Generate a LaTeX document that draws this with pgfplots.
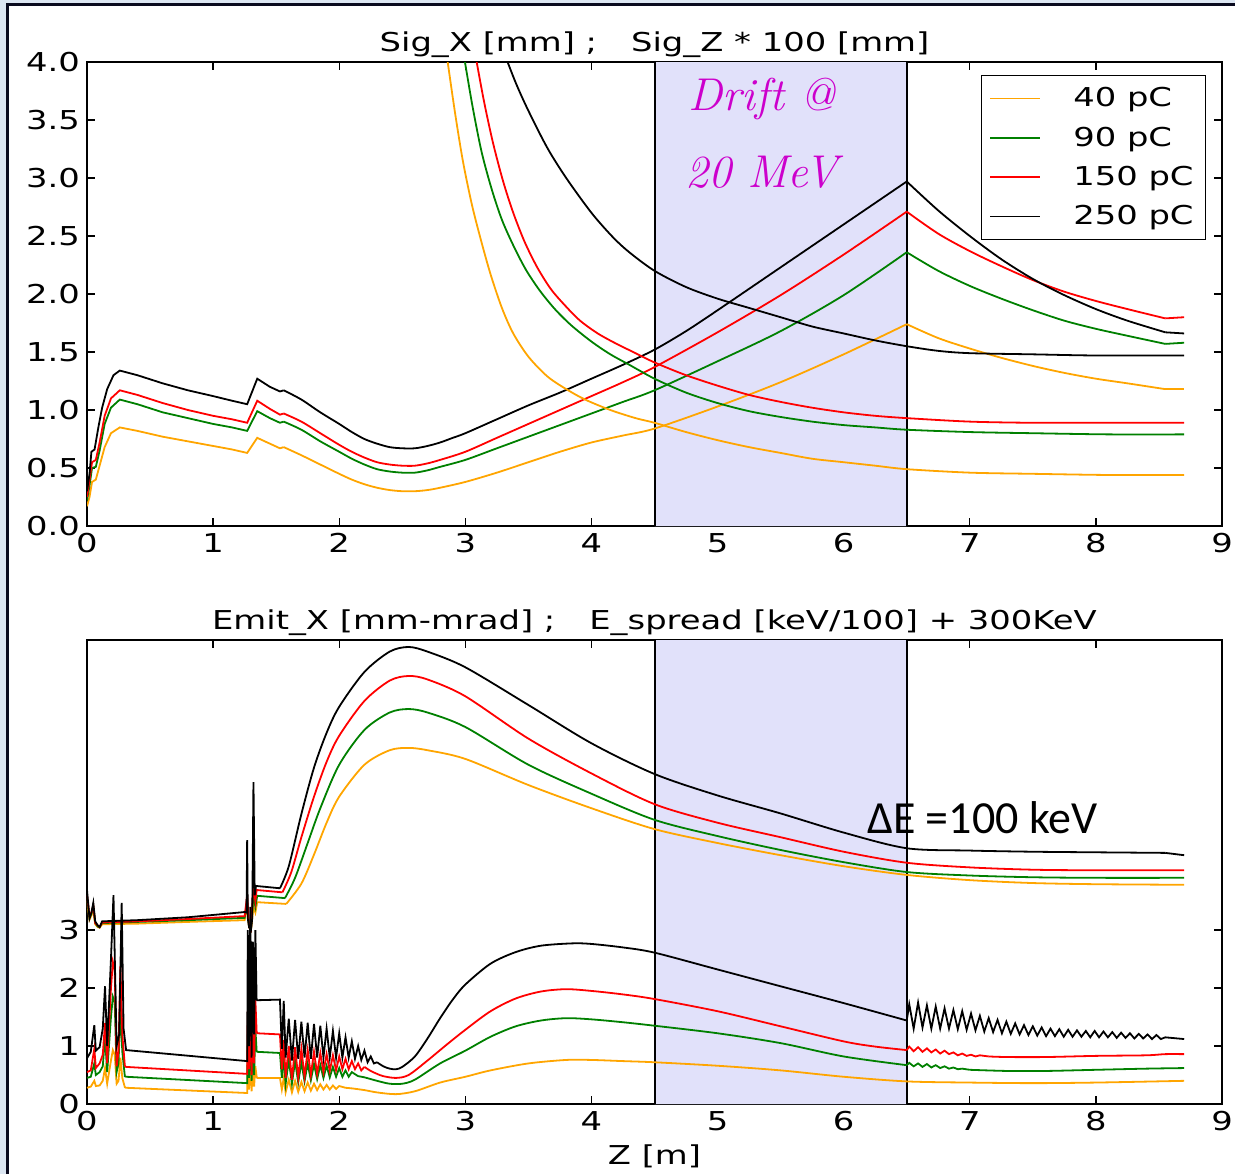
\documentclass[border=0pt]{standalone}
\usepackage{pgfplots}
\pgfplotsset{compat=1.18}
\usepackage{fontspec}
\setmainfont{DejaVu Sans}[FakeStretch=1.3]
\newfontfamily\driftfont{Latin Modern Roman}
\newfontfamily\calfont{Carlito}
\definecolor{c40}{HTML}{FFA500}
\definecolor{c90}{HTML}{008000}
\definecolor{c150}{HTML}{FF0000}
\definecolor{c250}{HTML}{000000}
\definecolor{driftc}{HTML}{E1E1FA}
\definecolor{frameblue}{HTML}{DCE6F2}
\definecolor{framedark}{HTML}{0A0A1E}
\definecolor{driftmag}{HTML}{CC00CC}
\newcommand{\lbl}{\fontsize{13}{15.5}\selectfont}
\pgfplotsset{
  mpl/.style={
    scale only axis, width=567.5pt, height=232pt,
    xmin=0, xmax=9, xtick={0,1,...,9},
    tick align=inside, major tick length=4pt,
    axis line style={line width=0.9pt},
    every tick/.style={black, line width=0.7pt},
    tick label style={font=\lbl},
    title style={font=\lbl, yshift=-7.5pt},
    label style={font=\lbl},
    /pgf/number format/assume math mode=true,
    every axis plot/.append style={line width=0.9pt},
  },
  sm/.style={smooth, forget plot},
  sh/.style={forget plot},
}
\begin{document}
\begin{tikzpicture}
% ---------------- top panel ----------------
\begin{axis}[mpl, at={(43.5pt,-263pt)}, anchor=south west,
  ymin=0, ymax=4, ytick={0,0.5,...,4},
  yticklabel style={/pgf/number format/.cd, fixed, fixed zerofill, precision=1},
  title={Sig\_X [mm] ;\hspace{17pt}Sig\_Z * 100 [mm]},
  legend style={at={(1,1)}, anchor=north east, xshift=-8pt, yshift=-6.5pt,
    draw=black, fill=white, font=\lbl, cells={anchor=west},
    column sep=14pt, row sep=4.5pt, inner xsep=4pt, inner ysep=4pt},
  legend image code/.code={\draw[#1] (0pt,0pt) -- (25pt,0pt);},
]
\addplot[draw=none, fill=driftc, forget plot] coordinates {(4.5,0)(4.5,4)(6.5,4)(6.5,0)} \closedcycle;
\addplot[black, line width=1pt, forget plot] coordinates {(4.5,0)(4.5,4)};
\addplot[black, line width=1pt, forget plot] coordinates {(6.5,0)(6.5,4)};
% Sig_X, early part
\addplot[c40] coordinates {(0,0.17)(0.02,0.25)(0.04,0.38)(0.07,0.40)(0.10,0.52)(0.14,0.68)(0.19,0.80)(0.26,0.85)(0.40,0.82)(0.60,0.77)(0.80,0.73)(1.00,0.69)(1.15,0.66)(1.27,0.63)(1.35,0.76)(1.45,0.71)(1.53,0.67)(1.56,0.68)};
\addlegendentry{40 pC}
\addplot[c90] coordinates {(0,0.22)(0.02,0.35)(0.04,0.50)(0.07,0.51)(0.10,0.65)(0.14,0.88)(0.19,1.02)(0.26,1.09)(0.40,1.05)(0.60,0.98)(0.80,0.93)(1.00,0.88)(1.15,0.85)(1.27,0.82)(1.35,0.99)(1.45,0.93)(1.53,0.89)(1.56,0.90)};
\addlegendentry{90 pC}
\addplot[c150] coordinates {(0,0.25)(0.02,0.40)(0.04,0.55)(0.07,0.57)(0.10,0.72)(0.14,0.95)(0.19,1.10)(0.26,1.17)(0.40,1.13)(0.60,1.06)(0.80,1.00)(1.00,0.95)(1.15,0.92)(1.27,0.89)(1.35,1.08)(1.45,1.01)(1.53,0.96)(1.56,0.97)};
\addlegendentry{150 pC}
\addplot[c250] coordinates {(0,0.30)(0.02,0.45)(0.035,0.64)(0.06,0.66)(0.09,0.85)(0.12,1.02)(0.16,1.18)(0.21,1.30)(0.26,1.34)(0.40,1.30)(0.60,1.23)(0.80,1.17)(1.00,1.12)(1.15,1.08)(1.27,1.05)(1.35,1.27)(1.45,1.20)(1.53,1.16)(1.56,1.17)};
\addlegendentry{250 pC}
% Sig_X, later parts
\addplot[c40, sm] coordinates {(1.56,0.68)(1.70,0.61)(1.85,0.53)(2.00,0.45)(2.10,0.40)(2.20,0.36)(2.30,0.33)(2.40,0.31)(2.50,0.30)(2.60,0.30)(2.70,0.31)(2.80,0.33)(3.00,0.38)(3.25,0.46)(3.50,0.55)(3.75,0.64)(4.00,0.72)(4.25,0.78)(4.50,0.84)(5.00,1.03)(5.50,1.24)(6.00,1.48)(6.50,1.74)};
\addplot[c40, sm] coordinates {(6.50,1.74)(6.75,1.62)(7.00,1.53)(7.25,1.45)(7.50,1.38)(7.75,1.32)(8.00,1.27)(8.25,1.23)(8.55,1.18)};
\addplot[c40, sh] coordinates {(8.55,1.18)(8.70,1.18)};
\addplot[c90, sm] coordinates {(1.56,0.90)(1.70,0.83)(1.85,0.73)(2.00,0.64)(2.10,0.58)(2.20,0.53)(2.30,0.49)(2.40,0.47)(2.50,0.46)(2.60,0.46)(2.70,0.48)(2.80,0.51)(3.00,0.57)(3.25,0.67)(3.50,0.77)(3.75,0.87)(4.00,0.97)(4.25,1.07)(4.50,1.17)(5.00,1.42)(5.50,1.68)(6.00,1.99)(6.50,2.36)};
\addplot[c90, sm] coordinates {(6.50,2.36)(6.75,2.20)(7.00,2.07)(7.25,1.96)(7.50,1.86)(7.75,1.77)(8.00,1.70)(8.25,1.64)(8.55,1.57)};
\addplot[c90, sh] coordinates {(8.55,1.57)(8.70,1.58)};
\addplot[c150, sm] coordinates {(1.56,0.97)(1.70,0.90)(1.85,0.80)(2.00,0.70)(2.10,0.64)(2.20,0.59)(2.30,0.55)(2.40,0.53)(2.50,0.52)(2.60,0.52)(2.70,0.54)(2.80,0.57)(3.00,0.64)(3.25,0.76)(3.50,0.88)(3.75,1.00)(4.00,1.12)(4.25,1.24)(4.50,1.37)(5.00,1.67)(5.50,1.99)(6.00,2.34)(6.50,2.71)};
\addplot[c150, sm] coordinates {(6.50,2.71)(6.75,2.52)(7.00,2.37)(7.25,2.24)(7.50,2.12)(7.75,2.02)(8.00,1.94)(8.25,1.87)(8.55,1.79)};
\addplot[c150, sh] coordinates {(8.55,1.79)(8.70,1.80)};
\addplot[c250, sm] coordinates {(1.56,1.17)(1.70,1.09)(1.85,0.98)(2.00,0.88)(2.10,0.81)(2.20,0.75)(2.30,0.71)(2.40,0.68)(2.50,0.67)(2.60,0.67)(2.70,0.69)(2.80,0.72)(2.90,0.76)(3.00,0.80)(3.25,0.92)(3.50,1.04)(3.75,1.15)(4.00,1.27)(4.25,1.39)(4.50,1.52)(4.75,1.68)(5.00,1.86)(5.50,2.23)(6.00,2.60)(6.50,2.97)};
\addplot[c250, sm] coordinates {(6.50,2.97)(6.75,2.72)(7.00,2.50)(7.25,2.30)(7.50,2.13)(7.75,1.99)(8.00,1.87)(8.25,1.77)(8.55,1.67)};
\addplot[c250, sh] coordinates {(8.55,1.67)(8.70,1.66)};
% Sig_Z * 100
\addplot[c40, sm] coordinates {(2.83,4.25)(2.86,4.00)(2.92,3.55)(2.98,3.15)(3.05,2.78)(3.12,2.48)(3.20,2.17)(3.29,1.88)(3.38,1.66)(3.50,1.46)(3.65,1.29)(3.80,1.18)(3.95,1.09)(4.15,1.00)(4.35,0.93)(4.50,0.89)(4.75,0.81)(5.00,0.74)(5.25,0.68)(5.50,0.63)(5.75,0.58)(6.00,0.55)(6.25,0.52)(6.50,0.49)(7.00,0.46)(7.50,0.45)(8.10,0.44)(8.70,0.44)};
\addplot[c90, sm] coordinates {(2.96,4.25)(3.00,3.98)(3.06,3.60)(3.13,3.22)(3.21,2.90)(3.29,2.64)(3.38,2.42)(3.48,2.21)(3.59,2.03)(3.71,1.87)(3.84,1.73)(4.00,1.59)(4.15,1.48)(4.30,1.39)(4.50,1.27)(4.75,1.15)(5.00,1.06)(5.25,0.99)(5.50,0.94)(5.75,0.90)(6.00,0.87)(6.25,0.85)(6.50,0.83)(7.00,0.81)(7.50,0.80)(8.10,0.79)(8.70,0.79)};
\addplot[c150, sm] coordinates {(3.05,4.25)(3.09,4.00)(3.15,3.65)(3.22,3.30)(3.30,2.97)(3.38,2.70)(3.47,2.45)(3.57,2.23)(3.68,2.04)(3.80,1.89)(3.91,1.77)(4.05,1.66)(4.20,1.57)(4.35,1.49)(4.50,1.41)(4.75,1.30)(5.00,1.21)(5.25,1.13)(5.50,1.07)(5.75,1.02)(6.00,0.98)(6.25,0.95)(6.50,0.93)(7.00,0.90)(7.50,0.89)(8.10,0.89)(8.70,0.89)};
\addplot[c250, sm] coordinates {(3.30,4.10)(3.40,3.82)(3.50,3.58)(3.65,3.26)(3.80,3.00)(4.00,2.70)(4.17,2.49)(4.30,2.36)(4.50,2.20)(4.75,2.06)(5.00,1.96)(5.25,1.88)(5.50,1.80)(5.75,1.72)(6.00,1.66)(6.25,1.60)(6.50,1.55)(6.75,1.51)(7.00,1.49)(7.50,1.48)(8.00,1.47)(8.70,1.47)};
\node[driftmag, font=\driftfont\itshape\fontsize{23}{27}\selectfont] at (axis cs:5.35,3.68) {Drift @};
\node[driftmag, font=\driftfont\itshape\fontsize{23}{27}\selectfont] at (axis cs:5.35,3.05) {20 MeV};
\end{axis}
% ---------------- bottom panel ----------------
\begin{axis}[mpl, at={(43.5pt,-552pt)}, anchor=south west,
  ymin=0, ymax=8, ytick={0,1,2,3},
  title={Emit\_X [mm-mrad] ;\hspace{17pt}E\_spread [keV/100] + 300KeV},
  xlabel={Z [m]},
]
\addplot[draw=none, fill=driftc, forget plot] coordinates {(4.5,0)(4.5,8)(6.5,8)(6.5,0)} \closedcycle;
\addplot[black, line width=1pt, forget plot] coordinates {(4.5,0)(4.5,8)};
\addplot[black, line width=1pt, forget plot] coordinates {(6.5,0)(6.5,8)};
% E_spread (sharp early part, smooth later part)
\addplot[c40, sh] coordinates {(0,3.50)(0.02,3.18)(0.035,3.25)(0.05,3.35)(0.065,3.10)(0.085,3.05)(0.10,3.04)(0.12,3.10)(0.40,3.11)(0.80,3.14)(1.25,3.17)(1.27,3.40)(1.285,3.05)(1.30,3.00)(1.32,3.40)(1.335,3.30)(1.35,3.48)(1.58,3.45)};
\addplot[c40, sm] coordinates {(1.58,3.45)(1.70,3.80)(1.80,4.30)(1.90,4.85)(2.00,5.30)(2.20,5.85)(2.40,6.10)(2.55,6.14)(2.70,6.10)(3.00,5.95)(3.50,5.50)(4.00,5.10)(4.50,4.74)(5.00,4.50)(5.50,4.29)(6.00,4.10)(6.50,3.95)(7.00,3.86)(7.50,3.81)(8.00,3.79)(8.70,3.78)};
\addplot[c90, sh] coordinates {(0,3.55)(0.02,3.22)(0.035,3.28)(0.05,3.40)(0.065,3.12)(0.085,3.06)(0.10,3.05)(0.12,3.12)(0.40,3.14)(0.80,3.17)(1.25,3.21)(1.27,3.50)(1.285,3.05)(1.30,3.00)(1.32,3.60)(1.335,3.40)(1.35,3.59)(1.57,3.55)};
\addplot[c90, sm] coordinates {(1.57,3.55)(1.65,3.90)(1.75,4.50)(1.85,5.10)(2.00,5.85)(2.20,6.45)(2.40,6.75)(2.55,6.81)(2.70,6.75)(3.00,6.50)(3.50,5.85)(4.00,5.35)(4.50,4.90)(5.00,4.62)(5.50,4.38)(6.00,4.17)(6.50,4.00)(7.00,3.94)(7.50,3.91)(8.00,3.90)(8.70,3.90)};
\addplot[c150, sh] coordinates {(0,3.60)(0.02,3.25)(0.035,3.30)(0.05,3.42)(0.065,3.12)(0.085,3.08)(0.10,3.05)(0.12,3.13)(0.40,3.15)(0.80,3.19)(1.25,3.24)(1.27,3.60)(1.285,3.05)(1.30,3.00)(1.32,3.80)(1.335,3.50)(1.345,3.69)(1.55,3.65)};
\addplot[c150, sm] coordinates {(1.55,3.65)(1.62,4.00)(1.70,4.60)(1.80,5.30)(1.90,5.90)(2.00,6.35)(2.20,6.95)(2.40,7.30)(2.55,7.38)(2.70,7.32)(3.00,7.03)(3.50,6.30)(4.00,5.70)(4.50,5.17)(5.00,4.85)(5.50,4.60)(6.00,4.35)(6.50,4.16)(7.00,4.08)(7.50,4.04)(8.00,4.03)(8.70,4.03)};
\addplot[c250, sh] coordinates {(0,3.69)(0.02,3.20)(0.035,3.30)(0.05,3.47)(0.065,3.15)(0.085,3.08)(0.10,3.05)(0.12,3.15)(0.40,3.17)(0.80,3.22)(1.25,3.31)(1.265,3.30)(1.27,4.55)(1.275,3.20)(1.285,3.05)(1.30,3.00)(1.31,3.20)(1.32,5.55)(1.33,3.60)(1.34,3.76)(1.53,3.72)};
\addplot[c250, sm] coordinates {(1.53,3.72)(1.60,4.10)(1.70,5.00)(1.80,5.80)(1.90,6.40)(2.00,6.85)(2.20,7.45)(2.40,7.80)(2.55,7.88)(2.70,7.80)(3.00,7.53)(3.50,6.88)(4.00,6.22)(4.50,5.69)(5.00,5.32)(5.50,5.01)(6.00,4.68)(6.50,4.41)(7.00,4.37)(7.50,4.35)(8.00,4.34)(8.55,4.33)};
\addplot[c250, sh] coordinates {(8.55,4.33)(8.70,4.29)};
% Emit_X: 40 pC
\addplot[c40, sh] coordinates {(0,0.28)(0.03,0.30)(0.058,0.40)(0.07,0.31)(0.10,0.32)(0.125,0.40)(0.143,0.62)(0.16,0.35)(0.19,0.75)(0.205,0.93)(0.22,0.85)(0.235,0.35)(0.25,0.40)(0.265,0.80)(0.28,0.45)(0.30,0.29)(0.31,0.28)(1.27,0.19)(1.275,0.70)(1.285,0.25)(1.295,0.90)(1.305,0.22)(1.315,0.60)(1.325,0.30)(1.335,0.65)(1.345,0.47)(1.35,0.45)(1.53,0.45)(1.545,0.25)(1.56,0.45)(1.575,0.20)(1.60,0.42)(1.625,0.20)(1.65,0.40)(1.675,0.21)(1.70,0.38)(1.725,0.22)(1.75,0.37)(1.775,0.23)(1.80,0.35)(1.825,0.24)(1.85,0.34)(1.875,0.25)(1.90,0.33)(1.925,0.25)(1.95,0.32)(1.975,0.26)(2.00,0.31)(2.05,0.28)(2.10,0.27)};
\addplot[c40, sm] coordinates {(2.10,0.27)(2.20,0.24)(2.30,0.20)(2.45,0.17)(2.60,0.22)(2.80,0.37)(3.00,0.47)(3.20,0.58)(3.50,0.70)(3.80,0.76)(4.00,0.76)(4.25,0.74)(4.50,0.72)(5.00,0.66)(5.50,0.58)(6.00,0.47)(6.50,0.39)(7.00,0.37)(7.50,0.36)(8.00,0.37)(8.70,0.40)};
% Emit_X: 90 pC
\addplot[c90, sh] coordinates {(0,0.45)(0.03,0.47)(0.058,0.70)(0.07,0.50)(0.10,0.55)(0.125,0.65)(0.143,1.15)(0.16,0.55)(0.19,1.50)(0.205,1.85)(0.22,1.75)(0.235,0.55)(0.25,0.70)(0.265,1.70)(0.28,0.90)(0.30,0.48)(0.31,0.47)(1.27,0.36)(1.275,1.20)(1.285,0.45)(1.295,1.60)(1.305,0.40)(1.315,1.10)(1.325,0.50)(1.335,1.30)(1.345,0.92)(1.35,0.90)(1.53,0.88)(1.545,0.45)(1.56,0.80)(1.575,0.35)(1.60,0.76)(1.625,0.35)(1.65,0.74)(1.675,0.37)(1.70,0.72)(1.725,0.39)(1.75,0.70)(1.775,0.41)(1.80,0.69)(1.825,0.43)(1.85,0.67)(1.875,0.45)(1.90,0.66)(1.925,0.46)(1.95,0.64)(1.975,0.47)(2.00,0.62)(2.025,0.47)(2.05,0.58)(2.075,0.47)(2.10,0.55)(2.15,0.48)};
\addplot[c90, sm] coordinates {(2.15,0.48)(2.20,0.46)(2.30,0.40)(2.40,0.35)(2.50,0.35)(2.60,0.42)(2.80,0.70)(3.00,0.92)(3.20,1.16)(3.40,1.34)(3.60,1.44)(3.80,1.48)(4.00,1.46)(4.25,1.41)(4.50,1.35)(5.00,1.22)(5.50,1.05)(6.00,0.82)(6.50,0.67)};
\addplot[c90, sh] coordinates {(6.50,0.67)(6.52,0.71)(6.555,0.65)(6.59,0.70)(6.625,0.64)(6.66,0.69)(6.695,0.63)(6.73,0.67)(6.765,0.62)(6.80,0.65)(6.835,0.61)(6.87,0.63)(6.905,0.60)(6.94,0.61)(7.00,0.59)};
\addplot[c90, sm] coordinates {(7.00,0.59)(7.30,0.57)(7.60,0.57)(8.00,0.59)(8.40,0.61)(8.70,0.62)};
% Emit_X: 150 pC
\addplot[c150, sh] coordinates {(0,0.55)(0.03,0.58)(0.058,0.95)(0.07,0.62)(0.10,0.70)(0.125,0.85)(0.143,1.40)(0.16,0.70)(0.19,2.00)(0.205,2.45)(0.22,2.30)(0.235,0.65)(0.25,0.90)(0.265,2.38)(0.28,1.20)(0.30,0.66)(0.31,0.64)(1.27,0.52)(1.275,1.60)(1.285,0.60)(1.295,2.10)(1.305,0.50)(1.315,1.50)(1.325,0.70)(1.335,1.80)(1.345,1.25)(1.35,1.22)(1.53,1.20)(1.545,0.60)(1.56,1.10)(1.575,0.45)(1.60,1.00)(1.625,0.42)(1.65,0.98)(1.675,0.45)(1.70,0.95)(1.725,0.47)(1.75,0.93)(1.775,0.50)(1.80,0.90)(1.825,0.52)(1.85,0.88)(1.875,0.55)(1.90,0.86)(1.925,0.57)(1.95,0.84)(1.975,0.58)(2.00,0.82)(2.025,0.60)(2.05,0.78)(2.075,0.60)(2.10,0.74)(2.125,0.60)(2.15,0.70)(2.175,0.58)(2.20,0.64)};
\addplot[c150, sm] coordinates {(2.20,0.64)(2.25,0.57)(2.30,0.52)(2.35,0.48)(2.45,0.45)(2.55,0.50)(2.70,0.75)(2.85,1.02)(3.00,1.28)(3.20,1.60)(3.40,1.82)(3.60,1.94)(3.80,1.98)(4.00,1.95)(4.25,1.89)(4.50,1.81)(5.00,1.60)(5.50,1.34)(6.00,1.08)(6.25,0.99)(6.50,0.93)};
\addplot[c150, sh] coordinates {(6.50,0.93)(6.52,0.99)(6.555,0.91)(6.59,0.98)(6.625,0.90)(6.66,0.96)(6.695,0.89)(6.73,0.94)(6.765,0.87)(6.80,0.92)(6.835,0.86)(6.87,0.89)(6.905,0.84)(6.94,0.87)(6.975,0.83)(7.01,0.85)(7.045,0.82)(7.08,0.84)(7.15,0.82)};
\addplot[c150, sm] coordinates {(7.15,0.82)(7.30,0.81)(7.60,0.81)(8.00,0.83)(8.40,0.84)(8.55,0.86)(8.70,0.86)};
% Emit_X: 250 pC
\addplot[c250, sh] coordinates {(0,0.79)(0.03,0.90)(0.058,1.36)(0.07,0.92)(0.10,0.98)(0.125,1.30)(0.143,2.03)(0.16,1.00)(0.19,2.50)(0.21,3.60)(0.235,1.00)(0.255,1.20)(0.275,3.47)(0.29,1.30)(0.31,0.93)(1.27,0.74)(1.275,3.00)(1.285,1.00)(1.295,3.40)(1.305,0.80)(1.315,2.80)(1.325,1.20)(1.335,3.00)(1.345,1.80)(1.35,1.79)(1.53,1.80)(1.545,0.95)(1.56,1.78)(1.575,0.80)(1.60,1.47)(1.625,0.75)(1.65,1.45)(1.675,0.78)(1.70,1.42)(1.725,0.80)(1.75,1.40)(1.775,0.78)(1.80,1.38)(1.825,0.80)(1.85,1.35)(1.875,0.80)(1.90,1.30)(1.925,0.80)(1.95,1.26)(1.975,0.80)(2.00,1.22)(2.025,0.80)(2.05,1.15)(2.075,0.80)(2.10,1.08)(2.125,0.78)(2.15,1.00)(2.175,0.76)(2.20,0.92)(2.225,0.72)(2.25,0.82)(2.275,0.70)(2.30,0.72)};
\addplot[c250, sm] coordinates {(2.30,0.72)(2.35,0.65)(2.40,0.61)(2.45,0.60)(2.50,0.64)(2.60,0.82)(2.70,1.13)(2.80,1.48)(2.90,1.80)(3.00,2.06)(3.20,2.42)(3.40,2.62)(3.60,2.73)(3.85,2.77)(4.00,2.76)(4.25,2.70)(4.50,2.61)(5.00,2.32)(5.50,2.03)(6.00,1.74)(6.50,1.44)};
\addplot[c250, sh] coordinates {(6.50,1.44)(6.52,1.72)(6.555,1.30)(6.59,1.75)(6.625,1.32)(6.66,1.70)(6.695,1.30)(6.73,1.68)(6.765,1.30)(6.80,1.65)(6.835,1.30)(6.87,1.62)(6.905,1.29)(6.94,1.60)(6.975,1.28)(7.01,1.56)(7.045,1.27)(7.08,1.52)(7.115,1.25)(7.15,1.48)(7.185,1.24)(7.22,1.45)(7.255,1.22)(7.29,1.42)(7.325,1.21)(7.36,1.39)(7.395,1.20)(7.43,1.36)(7.465,1.19)(7.50,1.34)(7.535,1.18)(7.57,1.32)(7.605,1.17)(7.64,1.30)(7.675,1.17)(7.71,1.29)(7.745,1.16)(7.78,1.28)(7.815,1.16)(7.85,1.27)(7.885,1.16)(7.92,1.26)(7.955,1.15)(7.99,1.26)(8.025,1.15)(8.06,1.25)(8.095,1.15)(8.13,1.24)(8.165,1.14)(8.20,1.23)(8.235,1.14)(8.27,1.22)(8.305,1.13)(8.34,1.21)(8.375,1.13)(8.41,1.20)(8.445,1.12)(8.48,1.19)(8.515,1.12)(8.55,1.15)(8.70,1.12)};
\node[font=\calfont\fontsize{23}{27}\selectfont] at (axis cs:7.1,4.93) {ΔE =100 keV};
\end{axis}
% frame
\fill[frameblue] (0pt,0pt) rectangle (3pt,-587pt);
\fill[frameblue] (0pt,0pt) rectangle (617.5pt,-1.5pt);
\draw[framedark, line width=1.5pt] (3.75pt,-587pt) -- (3.75pt,-2.25pt) -- (617.5pt,-2.25pt);
\pgfresetboundingbox
\path[use as bounding box] (0pt,0pt) rectangle (617.5pt,-587pt);
\end{tikzpicture}
\end{document}
